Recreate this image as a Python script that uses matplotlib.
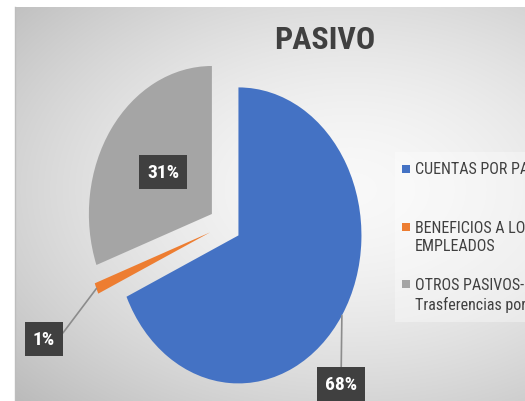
import numpy as np
import matplotlib
matplotlib.use('Agg')
import matplotlib.pyplot as plt
from matplotlib.patches import Rectangle

plt.rcParams['font.family'] = ['Roboto Condensed', 'DejaVu Sans']

# data
categorias = ['CUENTAS POR PAGAR', 'BENEFICIOS A LOS\nEMPLEADOS',
              'OTROS PASIVOS-\nTrasferencias por pagar']
valores = [68.2, 1.2, 30.6]
colores = ['#4472C4', '#ED7D31', '#A5A5A5']

W, H = 525, 402
fig = plt.figure(figsize=(W / 100, H / 100), dpi=100)
fig.patch.set_facecolor('white')

def fx(px):
    return px / W

def fy(py):
    return 1 - py / H

# chart area background (radial gradient)
bg = fig.add_axes([fx(15), 0, 1 - fx(15), 1 - 8 / H])
yy, xx = np.mgrid[8:H, 15:W]
d = np.sqrt(((xx - 350) / 400.0) ** 2 + ((yy - 190) / 260.0) ** 2)
grad = np.clip(0.975 - 0.19 * d ** 1.6, 0, 1)
bg.imshow(np.dstack([grad] * 3), aspect='auto', extent=[0, 1, 0, 1])
bg.set_axis_off()
fig.add_artist(plt.Line2D([fx(15), fx(15)], [0, fy(8)], color='#bdbdbd', lw=1))

# pie axes: unit radius = 123 px wide, 148 px tall, centre at (225, 226)
cx, cy, rx, ry = 225, 226, 123, 148
ax = fig.add_axes([0, 0, 1, 1])
ax.set_facecolor('none')
wedges, _ = ax.pie(valores, colors=colores, startangle=90, counterclock=False,
                   explode=[0.13, 0.13, 0.13], radius=1,
                   wedgeprops=dict(linewidth=0))
ax.set_aspect('auto')
ax.set_xlim(-cx / rx, (W - cx) / rx)
ax.set_ylim((cy - H) / ry, cy / ry)
ax.set_axis_off()

total = sum(valores)
etiquetas = ['%.0f%%' % (v / total * 100) for v in valores]
box = dict(boxstyle='square,pad=0.4', fc='#404040', ec='none')
txt = dict(color='white', fontsize=14, fontweight='bold', ha='center', va='center')

def punto(w):
    ang = np.deg2rad((w.theta1 + w.theta2) / 2)
    return w.center[0] + np.cos(ang) * w.r, w.center[1] + np.sin(ang) * w.r

def pos(px, py):
    return (px - cx) / rx, (cy - py) / ry

# 68% label below the blue slice
ax.annotate(etiquetas[0], xy=punto(wedges[0]), xytext=pos(341, 385), bbox=box,
            arrowprops=dict(arrowstyle='-', color='#8c8c8c', lw=1.2,
                            shrinkA=0, shrinkB=0), **txt)
# 1% label at left of orange slice
ax.annotate(etiquetas[1], xy=punto(wedges[1]), xytext=pos(44, 340), bbox=box,
            arrowprops=dict(arrowstyle='-', color='#8c8c8c', lw=1.2,
                            shrinkA=0, shrinkB=0, relpos=(1, 0.8),
                            connectionstyle='angle,angleA=0,angleB=53,rad=0'),
            **txt)
# 31% inside grey slice
ax.text(*pos(163, 173), etiquetas[2], bbox=box, **txt)

# title
fig.text(fx(325), fy(40), 'PASIVO', ha='center', va='center', fontsize=23,
         fontweight='bold', color='#404040')

# legend (drawn by hand, clipped at right edge like the original)
fig.add_artist(Rectangle((fx(395), fy(323)), 1 - fx(395), (323 - 153) / H,
                         transform=fig.transFigure, fc='white', alpha=0.35,
                         ec='none'))
legend_y = [170, 238, 295.5]
marker_y = [170, 228, 285]
for lab, col, ty, my in zip(categorias, colores, legend_y, marker_y):
    fig.add_artist(Rectangle((fx(402), fy(my + 4)), 8 / W, 8 / H,
                             transform=fig.transFigure, fc=col, ec='none'))
    fig.text(fx(415), fy(ty), lab, ha='left', va='center', fontsize=11.5,
             color='#404040', linespacing=1.25)

fig.savefig('out.png', dpi=100)
